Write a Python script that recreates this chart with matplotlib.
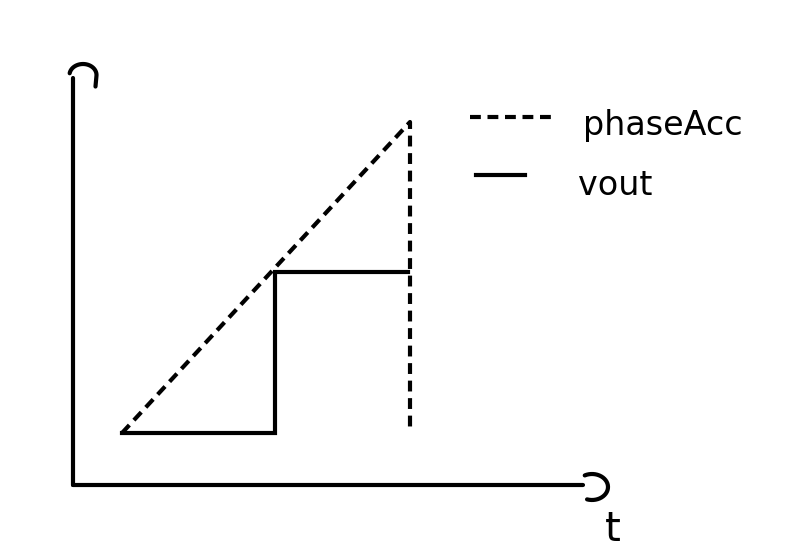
import numpy as np
import matplotlib
matplotlib.use("Agg")
import matplotlib.pyplot as plt

# --- data (arbitrary units, sketch) ---
t_phase = [0.98, 6.74, 6.74]
phase_acc = [1.04, 7.26, 1.10]
t_vout = [0.98, 4.04, 4.04, 6.70]
vout = [1.04, 1.04, 4.26, 4.26]
series_labels = ["phaseAcc", "vout"]
x_label = "t"

W, H, DPI = 793, 555, 100
fig = plt.figure(figsize=(W / DPI, H / DPI), dpi=DPI)
ax = fig.add_axes([73 / W, 70 / H, 510 / W, 407 / H])
ax.set_xlim(0, 10.2)
ax.set_ylim(0, 8.14)
for s in ["top", "right"]:
    ax.spines[s].set_visible(False)
for s in ["left", "bottom"]:
    ax.spines[s].set_linewidth(3)
    ax.spines[s].set_capstyle("round")
ax.set_xticks([])
ax.set_yticks([])

lw = 3
ax.plot(t_phase, phase_acc, color="black", lw=lw, linestyle=(0, (2.6, 1.6)),
        dash_capstyle="butt", clip_on=False)
ax.plot(t_vout, vout, color="black", lw=lw, solid_joinstyle="miter", clip_on=False)

# hand-drawn arrow hooks
th = np.linspace(np.pi * 0.95, -0.05, 30)
hx = 0.2 + 0.27 * np.cos(th)
hy = 8.2 + 0.22 * np.sin(th)
hx = np.append(hx, hx[-1] - 0.02)
hy = np.append(hy, hy[-1] - 0.22)
ax.plot(hx, hy, color="black", lw=lw, clip_on=False, solid_capstyle="round",
        solid_joinstyle="round")
th = np.linspace(np.pi * 0.65, -np.pi * 0.6, 30)
ax.plot(10.38 + 0.32 * np.cos(th), -0.04 + 0.26 * np.sin(th), color="black",
        lw=lw, clip_on=False, solid_capstyle="round")
ax.text(10.8, -0.5, x_label, fontsize=29, ha="center", va="top")

# legend (hand placed)
ax.plot([7.94, 9.58], [7.36, 7.36], color="black", lw=lw,
        linestyle=(0, (2.6, 1.6)), clip_on=False)
ax.plot([8.06, 9.04], [6.2, 6.2], color="black", lw=lw, clip_on=False)
ax.text(10.2, 7.2, series_labels[0], fontsize=24, va="center", ha="left")
ax.text(10.1, 6.0, series_labels[1], fontsize=24, va="center", ha="left")

fig.savefig("out.png", dpi=DPI)
